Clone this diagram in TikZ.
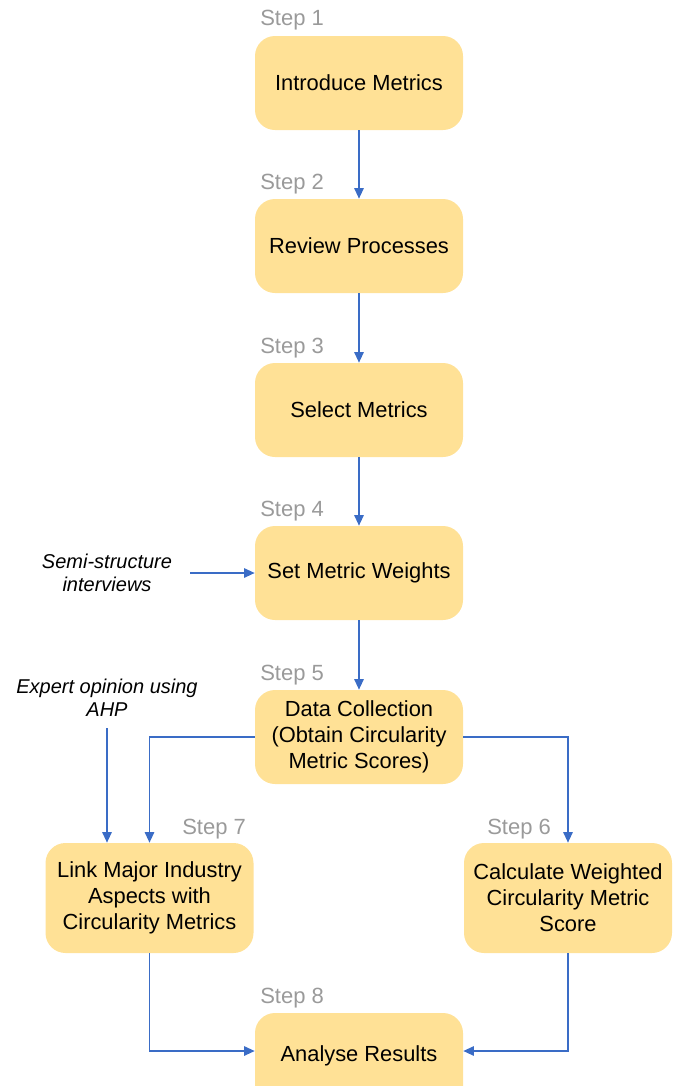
\documentclass[tikz,border=0pt]{standalone}
\usepackage{fontspec}
\setmainfont{Liberation Sans}
\usetikzlibrary{arrows.meta}
\definecolor{boxfill}{HTML}{FFE196}
\definecolor{flow}{HTML}{3A6CC6}
\definecolor{steplbl}{HTML}{9A9A9A}
\tikzset{
  stepbox/.style={draw=none, fill=boxfill, rounded corners=15pt,
    minimum width=156pt, minimum height=70.5pt, align=center,
    font=\fontsize{16.4}{19.5}\selectfont, inner sep=2pt},
  widebox/.style={stepbox, minimum height=82.5pt},
  steptag/.style={text=steplbl, font=\fontsize{16.5}{19}\selectfont, anchor=west, inner sep=0pt},
  note/.style={font=\itshape\fontsize{15}{17.5}\selectfont, align=center, inner sep=0pt},
  flowline/.style={draw=flow, line width=1.4pt, -{Triangle[length=8pt,width=7pt]}}
}
\begin{document}
\begin{tikzpicture}[x=0.75pt,y=-0.75pt]
\useasboundingbox (0,0) rectangle (678,1086);
\clip (0,0) rectangle (678,1086);

% main column of steps
\node[stepbox] (s1) at (359,83)  {Introduce Metrics};
\node[stepbox] (s2) at (359,246) {Review Processes};
\node[stepbox] (s3) at (359,410) {Select Metrics};
\node[stepbox] (s4) at (359,573) {Set Metric Weights};
\node[stepbox] (s5) at (359,737) {\raisebox{-2pt}{\parbox{150pt}{\centering Data Collection\\(Obtain Circularity\\Metric Scores)}}};
\node[widebox] (s7) at (149.5,898) {Link Major Industry\\Aspects with\\Circularity Metrics};
\node[widebox] (s6) at (568,898) {Calculate Weighted\\Circularity Metric\\Score};
\node[stepbox] (s8) at (359,1060) {\raisebox{10pt}{Analyse Results}};

% step tags
\node[steptag] (t1) at (260,20)  {Step 1};
\node[steptag] (t2) at (260,184) {Step 2};
\node[steptag] (t3) at (260,348) {Step 3};
\node[steptag] (t4) at (260,511) {Step 4};
\node[steptag] (t5) at (260,675) {Step 5};
\node[steptag] (t7) at (182,829) {Step 7};
\node[steptag] (t6) at (487,829) {Step 6};
\node[steptag] (t8) at (260,998) {Step 8};

% external inputs
\node[note] (semi) at (107,573) {Semi-structure\\interviews};
\node[note] (expert) at (107,698) {Expert opinion using\\AHP};
\coordinate (semiend) at (190,573);
\coordinate (expend) at (107,728);

% connectors
\draw[flowline] (s1) -- (s2);
\draw[flowline] (s2) -- (s3);
\draw[flowline] (s3) -- (s4);
\draw[flowline] (s4) -- (s5);
\draw[flowline] (semiend) -- (s4);
\draw[flowline] (expend) -- (expend |- s7.north);
\draw[flowline] (s5.west) -| (s7.north);
\draw[flowline] (s5.east) -| (s6.north);
\draw[flowline] (s7.south) |- (s8.west |- 0,1051);
\draw[flowline] (s6.south) |- (s8.east |- 0,1051);
\end{tikzpicture}
\end{document}
